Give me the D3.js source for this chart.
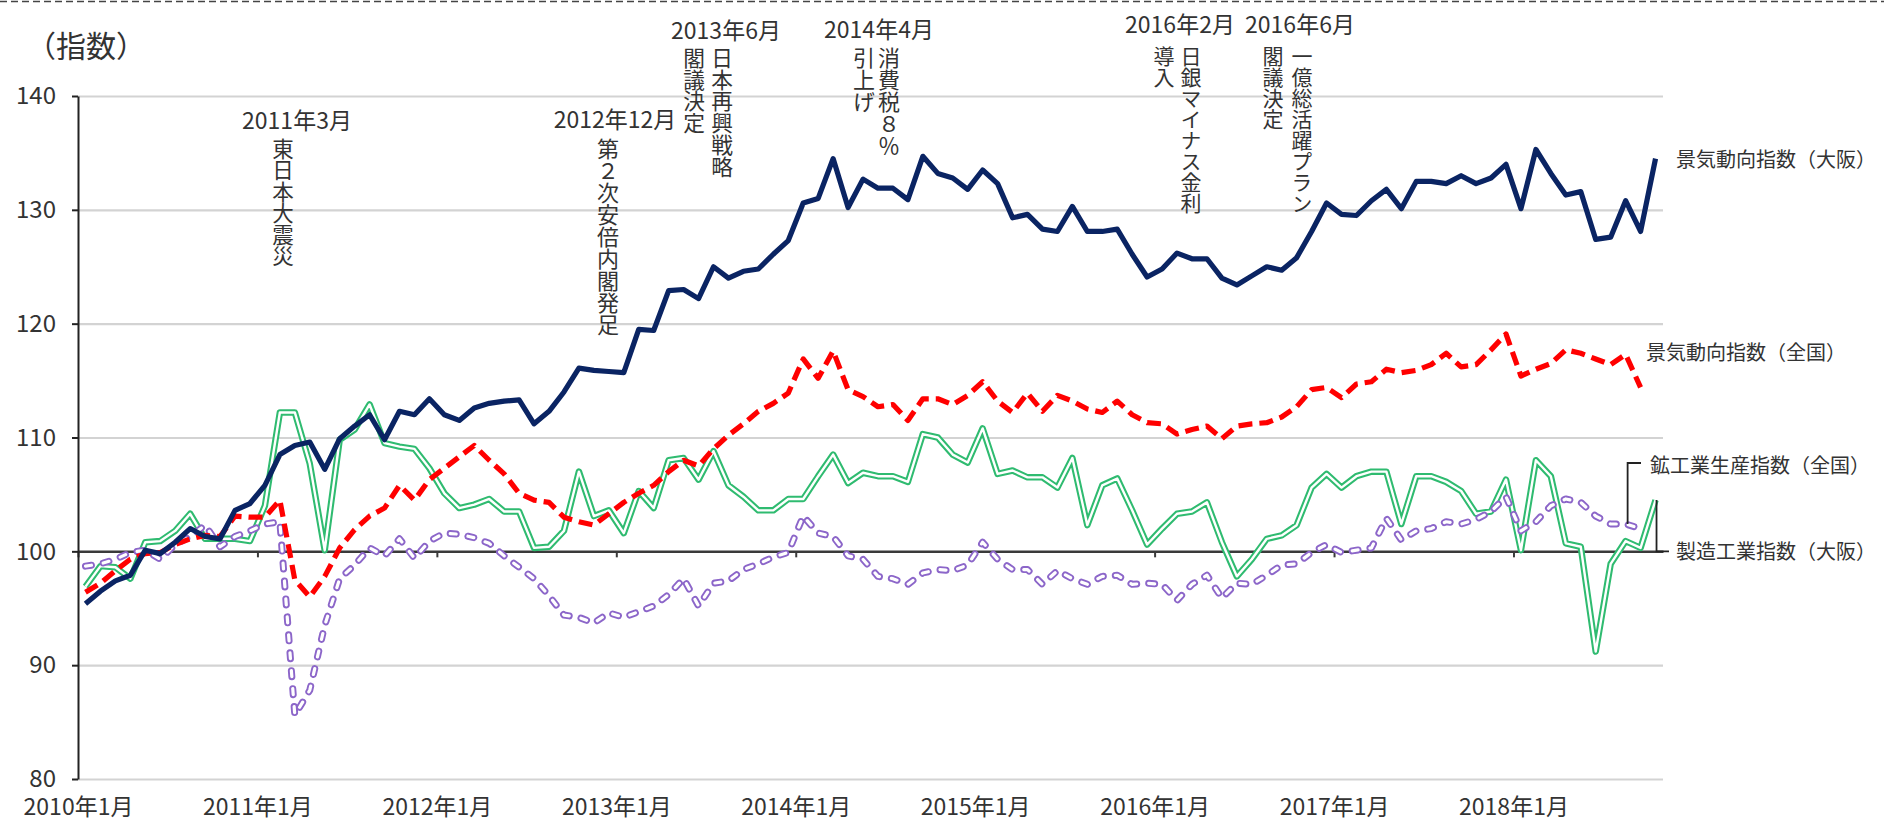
<!DOCTYPE html>
<html>
<head>
<meta charset="utf-8">
<script src="https://cdn.jsdelivr.net/npm/d3@7"></script>
<style>
  body { margin: 0; background: #fff; }
  svg { display: block; font-family: 'Noto Sans CJK JP', sans-serif; }
</style>
</head>
<body>
<svg id="chart" width="1884" height="824"></svg>
<script>
/* global d3 */

// monthly categories, 2010年1月 .. 2018年10月
const months = d3.timeMonth.range(new Date(2010, 0, 1), new Date(2018, 10, 1))
const yearLabels = ['2010年1月', '2011年1月', '2012年1月', '2013年1月', '2014年1月', '2015年1月', '2016年1月', '2017年1月', '2018年1月']
const yTicks = [80, 90, 100, 110, 120, 130, 140]

// 景気動向指数（大阪）
const osakaCI = [
  95.4, 96.5, 97.4, 97.9, 100.1, 99.8, 100.8, 102.0, 101.3, 101.1, 103.6, 104.2,
  105.8, 108.5, 109.3, 109.6, 107.2, 109.9, 111.0, 112.0, 109.8, 112.3, 112.0, 113.4,
  112.0, 111.5, 112.6, 113.0, 113.2, 113.3, 111.2, 112.3, 114.0, 116.1, 115.9, 115.8,
  115.7, 119.5, 119.4, 122.9, 123.0, 122.2, 125.0, 124.0, 124.6, 124.8, 126.1, 127.3,
  130.6, 131.0, 134.5, 130.2, 132.7, 131.9, 131.9, 130.9, 134.7, 133.2, 132.8, 131.8,
  133.5, 132.3, 129.3, 129.6, 128.3, 128.1, 130.3, 128.1, 128.1, 128.3, 126.1, 124.1,
  124.8, 126.2, 125.7, 125.7, 124.0, 123.4, 124.2, 125.0, 124.7, 125.8, 128.1, 130.6,
  129.6, 129.5, 130.8, 131.8, 130.1, 132.5, 132.5, 132.3, 133.0, 132.3, 132.8, 134.0,
  130.1, 135.3, 133.2, 131.3, 131.6, 127.4, 127.6, 130.8, 128.1, 134.5
]

// 景気動向指数（全国）
const nationalCI = [
  96.4, 97.2, 98.3, 99.3, 99.8, 99.9, 100.6, 101.1, 101.4, 101.3, 103.1, 103.0,
  103.0, 104.5, 97.5, 96.0, 97.8, 100.3, 101.9, 103.1, 103.8, 105.8, 104.5, 106.3,
  107.3, 108.3, 109.3, 108.0, 106.8, 105.1, 104.5, 104.3, 103.0, 102.6, 102.3, 103.3,
  104.3, 105.1, 105.8, 107.0, 108.0, 107.5, 109.0, 110.2, 111.2, 112.3, 113.0, 113.9,
  116.9, 115.2, 117.6, 114.2, 113.6, 112.7, 112.9, 111.5, 113.4, 113.4, 112.9, 113.7,
  114.9, 113.2, 112.2, 113.9, 112.3, 113.7, 113.2, 112.5, 112.2, 113.2, 112.0, 111.3,
  111.2, 110.3, 110.7, 111.0, 109.9, 111.0, 111.2, 111.3, 111.8, 112.7, 114.2, 114.4,
  113.5, 114.7, 114.9, 116.0, 115.7, 115.9, 116.4, 117.4, 116.2, 116.4, 117.7, 119.1,
  115.4, 116.0, 116.5, 117.7, 117.4, 116.9, 116.4, 117.3, 114.4
]

// 製造工業指数（大阪）
const osakaMfg = [
  96.9, 98.7, 98.6, 97.6, 100.8, 100.9, 101.8, 103.3, 101.1, 101.1, 101.1, 100.9,
  104.0, 112.2, 112.2, 107.7, 100.1, 109.8, 110.7, 112.9, 109.5, 109.2, 109.0, 107.3,
  105.1, 103.8, 104.1, 104.6, 103.5, 103.5, 100.3, 100.4, 101.8, 107.0, 103.1, 103.6,
  101.6, 105.3, 103.8, 108.0, 108.2, 106.3, 108.8, 105.8, 104.8, 103.6, 103.6, 104.6,
  104.6, 106.6, 108.5, 106.0, 106.9, 106.6, 106.6, 106.1, 110.3, 110.0, 108.5, 107.8,
  110.8, 106.8, 107.1, 106.5, 106.5, 105.6, 108.2, 102.3, 105.8, 106.4, 103.6, 100.6,
  102.0, 103.3, 103.5, 104.3, 100.8, 97.8, 99.3, 101.1, 101.4, 102.3, 105.6, 106.8,
  105.6, 106.6, 107.0, 107.0, 102.4, 106.6, 106.6, 106.1, 105.3, 103.3, 103.5, 106.3,
  100.1, 108.0, 106.6, 100.7, 100.4, 91.2, 98.9, 100.9, 100.3, 104.5
]

// 鉱工業生産指数（全国）
const nationalIP = [
  98.7, 98.9, 99.3, 99.9, 100.1, 99.3, 100.6, 101.3, 102.3, 100.4, 101.3, 101.8,
  102.4, 102.6, 85.6, 87.8, 93.5, 97.6, 98.8, 100.3, 99.6, 101.1, 99.4, 100.9,
  101.6, 101.5, 101.2, 100.7, 99.6, 98.6, 97.6, 96.1, 94.4, 94.2, 93.7, 94.6,
  94.2, 94.7, 95.2, 96.2, 97.6, 95.2, 97.2, 97.4, 98.4, 98.9, 99.5, 99.9,
  103.1, 101.6, 101.3, 99.6, 99.3, 97.8, 97.6, 97.1, 98.1, 98.4, 98.3, 98.8,
  100.8, 99.3, 98.4, 98.4, 97.1, 98.3, 97.6, 97.1, 97.8, 97.9, 97.1, 97.2,
  97.1, 95.7, 97.1, 97.9, 95.9, 97.2, 97.1, 97.9, 98.8, 98.9, 99.9, 100.6,
  99.9, 100.1, 100.3, 102.9, 101.0, 101.8, 102.0, 102.6, 102.4, 102.8, 103.5, 104.8,
  101.8, 102.6, 104.0, 104.6, 104.3, 103.1, 102.4, 102.4, 102.0
]

const seriesNames = ['景気動向指数（大阪）', '景気動向指数（全国）', '鉱工業生産指数（全国）', '製造工業指数（大阪）']

const eventLabels = ['2011年3月', '2012年12月', '2013年6月', '2014年4月', '2016年2月', '2016年6月']
const eventNotes = [
  ['東日本大震災'],
  ['第２次安倍内閣発足'],
  ['日本再興戦略', '閣議決定'],
  ['消費税８％', '引上げ'],
  ['日銀マイナス金利', '導入'],
  ['一億総活躍プラン', '閣議決定']
]

// layout
const plotLeft = 78
const plotRight = 1663
const plotTop = 96
const plotBottom = 779
const textColor = '#333'

// header position, column centres, column top and glyph size (= pitch)
const eventLayout = [
  { hx: 297, hy: 129, cols: [283], y0: 138, size: 21.5 },
  { hx: 615, hy: 128, cols: [608], y0: 138, size: 22 },
  { hx: 726, hy: 39, cols: [722, 694], y0: 47, size: 21.7 },
  { hx: 879, hy: 38, cols: [889, 864], y0: 47, size: 22 },
  { hx: 1180, hy: 33, cols: [1191, 1164], y0: 46, size: 21 },
  { hx: 1300, hy: 33, cols: [1302, 1273], y0: 46, size: 21 }
]
const nameLayout = [[1676, 167], [1646, 360], [1650, 473], [1676, 559]]

const svg = d3.select('#chart')

const x = d3.scaleLinear().domain([0, months.length]).range([plotLeft, plotRight])
const y = d3.scaleLinear().domain([80, 140]).range([plotBottom, plotTop])
const yearStarts = months.map((m, i) => i).filter(i => months[i].getMonth() === 0)

// top dashed border
svg.append('line')
  .attr('x1', 0).attr('x2', 1884).attr('y1', 1.5).attr('y2', 1.5)
  .attr('stroke', '#444').attr('stroke-width', 1.5).attr('stroke-dasharray', '7,4')

// gridlines
const grid = svg.append('g')
  .attr('transform', `translate(${plotLeft},0)`)
  .call(d3.axisLeft(y).tickValues(yTicks.filter(v => v !== 100)).tickSize(-(plotRight - plotLeft)).tickFormat(''))
grid.select('.domain').remove()
grid.selectAll('line').attr('stroke', '#d3d3d3').attr('stroke-width', 2.2)

// x axis crossing at 100
const xAxis = svg.append('g')
  .attr('transform', `translate(0,${y(100)})`)
  .call(d3.axisBottom(x).tickValues(yearStarts).tickSize(6).tickSizeOuter(0).tickFormat(''))
xAxis.select('.domain').attr('stroke', '#3a3a3a').attr('stroke-width', 2.5)
xAxis.selectAll('line').attr('stroke', '#3a3a3a').attr('stroke-width', 2)

// x labels at the bottom
const xLabels = svg.append('g')
  .attr('transform', `translate(0,${plotBottom})`)
  .call(d3.axisBottom(x).tickValues(yearStarts).tickSize(0).tickPadding(20)
    .tickFormat((d, k) => yearLabels[k]))
xLabels.select('.domain').remove()
xLabels.selectAll('text')
  .attr('font-family', 'Noto Sans CJK JP').attr('font-size', 23).attr('fill', textColor)

// y axis
const yAxis = svg.append('g')
  .attr('transform', `translate(${plotLeft},0)`)
  .call(d3.axisLeft(y).tickValues(yTicks).tickSize(6).tickSizeOuter(0).tickPadding(16))
yAxis.select('.domain').attr('stroke', '#222').attr('stroke-width', 2)
yAxis.selectAll('line').attr('stroke', '#222').attr('stroke-width', 2)
yAxis.selectAll('text')
  .attr('font-family', 'Noto Sans CJK JP').attr('font-size', 24).attr('fill', textColor)

svg.append('text')
  .attr('x', 26).attr('y', 57)
  .attr('font-size', 30).attr('fill', textColor)
  .text('（指数）')

// series
const line = d3.line().x((d, i) => x(i + 0.5)).y(d => y(d))
const plot = svg.append('g').attr('fill', 'none').attr('stroke-linejoin', 'round')

// 製造工業指数（大阪）: double green line
plot.append('path').datum(osakaMfg).attr('d', line)
  .attr('stroke', '#2fbb70').attr('stroke-width', 6.5)
plot.append('path').datum(osakaMfg).attr('d', line)
  .attr('stroke', '#fff').attr('stroke-width', 2.4)

// 鉱工業生産指数（全国）: hollow purple dashes
plot.append('path').datum(nationalIP).attr('d', line)
  .attr('stroke', '#8c66c9').attr('stroke-width', 7)
  .attr('stroke-dasharray', '6,12').attr('stroke-linecap', 'round')
plot.append('path').datum(nationalIP).attr('d', line)
  .attr('stroke', '#fff').attr('stroke-width', 3.2)
  .attr('stroke-dasharray', '6,12').attr('stroke-linecap', 'round')

// 景気動向指数（全国）: red dashes
plot.append('path').datum(nationalCI).attr('d', line)
  .attr('stroke', '#ff0000').attr('stroke-width', 5.2)
  .attr('stroke-dasharray', '14,7')

// 景気動向指数（大阪）: navy solid
plot.append('path').datum(osakaCI).attr('d', line)
  .attr('stroke', '#0a2463').attr('stroke-width', 5.2)

// leader lines for the lower two names
const ipEnd = nationalIP.length - 2
const leaders = [
  `M1641,463H${x(ipEnd + 0.5) + 2}V${y(nationalIP[ipEnd])}`,
  `M${x(osakaMfg.length - 0.5) + 1},${y(osakaMfg[osakaMfg.length - 1])}V${y(100)}H1669`
]
svg.append('g').selectAll('path')
  .data(leaders)
  .join('path')
  .attr('d', d => d)
  .attr('fill', 'none').attr('stroke', '#222').attr('stroke-width', 1.8)

svg.append('g').selectAll('text')
  .data(seriesNames)
  .join('text')
  .attr('x', (d, i) => nameLayout[i][0])
  .attr('y', (d, i) => nameLayout[i][1])
  .attr('font-size', 20).attr('fill', textColor)
  .text(d => d)

// event annotations: date header plus vertical columns, right to left
const events = svg.append('g').attr('fill', textColor)
eventLabels.forEach((label, k) => {
  const pos = eventLayout[k]
  events.append('text')
    .attr('x', pos.hx).attr('y', pos.hy)
    .attr('text-anchor', 'middle').attr('font-size', 23)
    .text(label)
  events.append('g').selectAll('text')
    .data(eventNotes[k])
    .join('text')
    .attr('x', (note, c) => pos.cols[c])
    .attr('y', pos.y0)
    .attr('writing-mode', 'vertical-rl')
    .style('writing-mode', 'vertical-rl')
    .attr('font-size', pos.size)
    .text(note => note)
})
</script>
</body>
</html>
